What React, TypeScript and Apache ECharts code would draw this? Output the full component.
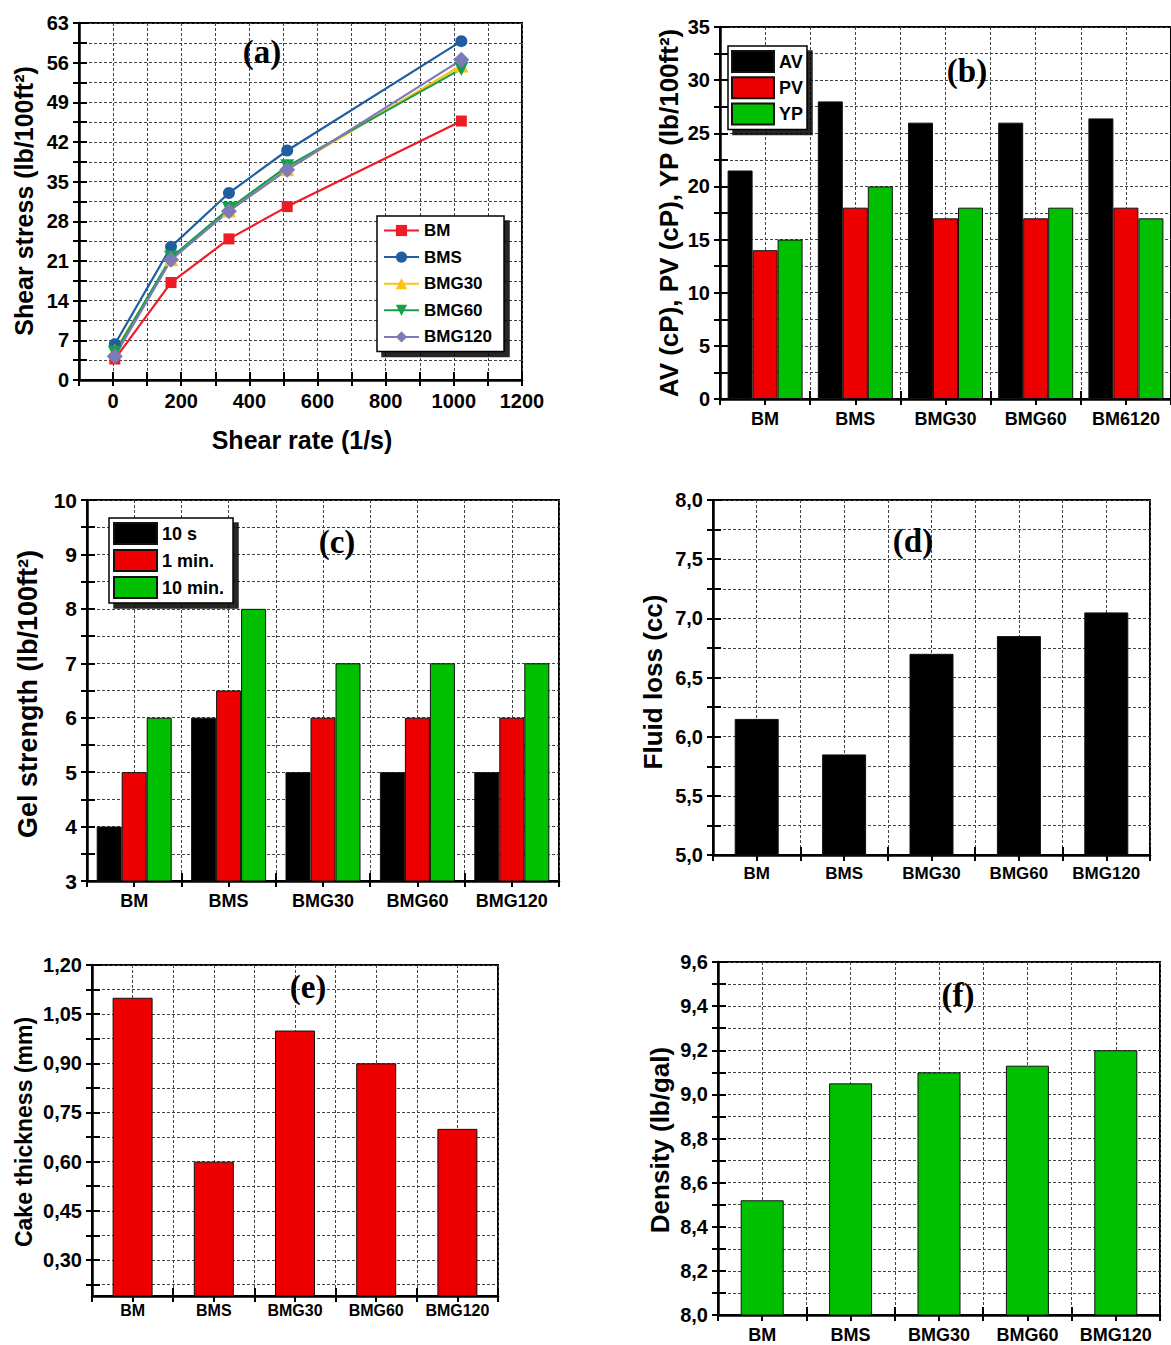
import React, { useEffect, useRef } from 'react';
import * as echarts from 'echarts';

// ---------- DATA ----------
const shearRates = [5.11, 170, 340, 511, 1022];
const stressBM = [3.7, 17.2, 24.9, 30.6, 45.7];
const stressBMS = [6.3, 23.5, 33.0, 40.5, 59.8];
const stressBMG30 = [5.1, 21.3, 29.9, 37.2, 55.5];
const stressBMG60 = [4.8, 21.6, 30.2, 37.7, 54.9];
const stressBMG120 = [4.2, 21.2, 29.8, 37.1, 56.5];

const categoriesB = ['BM', 'BMS', 'BMG30', 'BMG60', 'BM6120'];
const categories = ['BM', 'BMS', 'BMG30', 'BMG60', 'BMG120'];

const avValues = [21.5, 28, 26, 26, 26.4];
const pvValues = [14, 18, 17, 17, 18];
const ypValues = [15, 20, 18, 18, 17];

const gel10s = [4, 6, 5, 5, 5];
const gel1min = [5, 6.5, 6, 6, 6];
const gel10min = [6, 8, 7, 7, 7];

const fluidLoss = [6.15, 5.85, 6.7, 6.85, 7.05];
const cakeThickness = [1.1, 0.6, 1.0, 0.9, 0.7];
const density = [8.52, 9.05, 9.1, 9.13, 9.2];

const cakeTickValues = [0.225, 0.3, 0.375, 0.45, 0.525, 0.6, 0.675, 0.75, 0.825, 0.9, 0.975, 1.05, 1.125, 1.2];
const cakeLabelValues = [0.3, 0.45, 0.6, 0.75, 0.9, 1.05, 1.2];

// ---------- STYLE ----------
const SANS = "'Liberation Sans', Arial, sans-serif";
const SERIF = "'Liberation Serif', 'Times New Roman', serif";
const gridLine = { color: '#444', type: [3, 2], width: 1 };
const axisLineStyle = { color: '#000', width: 2.5 };
const tickStyle = { color: '#000', width: 2 };
const RED = '#ee0000';
const GREEN = '#00c000';
const BLACK = '#000000';

const isMult = (v: number, step: number) => Math.abs(v / step - Math.round(v / step)) < 1e-6;
const comma = (v: number, d: number) => v.toFixed(d).replace('.', ',');

function buildOption() {
  const grids = [
    { left: 79, top: 23, width: 443, height: 357 }, // a
    { left: 720, top: 27, width: 458, height: 372 }, // b
    { left: 87, top: 500, width: 472, height: 381 }, // c
    { left: 713, top: 500, width: 437, height: 355 }, // d
    { left: 92, top: 965, width: 406, height: 331 }, // e
    { left: 718, top: 962, width: 442, height: 353 }, // f
  ].map((g) => ({ ...g, show: true, borderColor: '#000', borderWidth: 2, backgroundColor: 'transparent', containLabel: false }));

  const xAxes: any[] = [];
  const yAxes: any[] = [];
  const series: any[] = [];

  function addY(g: number, cfg: any, labelFmt: (v: number) => string, fontSize: number, extra: any = {}) {
    const idx = yAxes.length;
    yAxes.push({
      type: 'value', gridIndex: g, position: 'left', ...cfg,
      axisLine: { show: true, onZero: false, lineStyle: axisLineStyle },
      axisTick: { show: true, inside: false, length: 6, lineStyle: tickStyle, ...(extra.tick || {}) },
      axisLabel: { show: true, formatter: labelFmt, fontFamily: SANS, fontWeight: 'bold', fontSize, color: '#000', margin: 10, ...(extra.label || {}) },
      splitLine: { show: true, lineStyle: gridLine },
    });
    yAxes.push({
      type: 'value', gridIndex: g, position: 'left', ...cfg,
      axisLine: { show: false, onZero: false },
      axisTick: { show: true, inside: true, length: 8, lineStyle: tickStyle, ...(extra.tick || {}) },
      axisLabel: { show: false },
      splitLine: { show: false },
    });
    return idx;
  }

  function addCatX(g: number, cats: string[], fontSize: number, margin: number) {
    const idx = xAxes.length;
    xAxes.push({
      type: 'category', gridIndex: g, position: 'bottom', data: cats,
      axisLine: { show: true, onZero: false, lineStyle: axisLineStyle },
      axisTick: { show: true, inside: true, length: 8, lineStyle: tickStyle },
      axisLabel: { interval: 0, fontFamily: SANS, fontWeight: 'bold', fontSize, color: '#000', margin },
      splitLine: { show: false },
    });
    xAxes.push({
      type: 'value', gridIndex: g, position: 'bottom', min: 0, max: 10, interval: 1,
      axisLine: { show: false, onZero: false },
      axisTick: { show: true, inside: false, length: 6, lineStyle: tickStyle },
      axisLabel: { show: false },
      splitLine: { show: true, lineStyle: gridLine },
    });
    return idx;
  }

  // ----- (a) -----
  const ax = xAxes.length;
  xAxes.push({
    type: 'value', gridIndex: 0, position: 'bottom', min: -100, max: 1200, interval: 100,
    axisLine: { show: true, onZero: false, lineStyle: axisLineStyle },
    axisTick: { show: true, inside: false, length: 6, lineStyle: tickStyle },
    axisLabel: {
      formatter: (v: number) => (v >= 0 && isMult(v, 200) ? String(v) : ''),
      fontFamily: SANS, fontWeight: 'bold', fontSize: 20, color: '#000', margin: 11,
    },
    splitLine: { show: true, lineStyle: gridLine },
  });
  xAxes.push({
    type: 'value', gridIndex: 0, position: 'bottom', min: -100, max: 1200, interval: 100,
    axisLine: { show: false, onZero: false },
    axisTick: { show: true, inside: true, length: 8, lineStyle: tickStyle },
    axisLabel: { show: false }, splitLine: { show: false },
  });
  const ay = addY(0, { min: 0, max: 63, interval: 3.5 }, (v) => (isMult(v, 7) ? String(v) : ''), 20);

  const lineDefs = [
    { name: 'BM', data: stressBM, color: '#ee1c25', symbol: 'rect', size: 11, rot: 0 },
    { name: 'BMS', data: stressBMS, color: '#1f5ea0', symbol: 'circle', size: 12, rot: 0 },
    { name: 'BMG30', data: stressBMG30, color: '#ffc20e', symbol: 'triangle', size: 14, rot: 0 },
    { name: 'BMG60', data: stressBMG60, color: '#17a04a', symbol: 'triangle', size: 14, rot: 180 },
    { name: 'BMG120', data: stressBMG120, color: '#7d7ab8', symbol: 'diamond', size: 16, rot: 0 },
  ];
  lineDefs.forEach((d) => {
    series.push({
      type: 'line', name: d.name, xAxisIndex: ax, yAxisIndex: ay,
      data: shearRates.map((x, i) => [x, d.data[i]]),
      symbol: d.symbol, symbolSize: d.size, symbolRotate: d.rot, showAllSymbol: true,
      lineStyle: { color: d.color, width: 2.2 },
      itemStyle: { color: d.color },
      z: 3,
    });
  });

  // ----- (b) -----
  const bx = addCatX(1, categoriesB, 18, 11);
  const by = addY(1, { min: 0, max: 35, interval: 2.5 }, (v) => (isMult(v, 5) ? String(v) : ''), 20);
  [
    { name: 'AV', data: avValues, color: BLACK },
    { name: 'PV', data: pvValues, color: RED },
    { name: 'YP', data: ypValues, color: GREEN },
  ].forEach((d) => {
    series.push({
      type: 'bar', name: d.name, xAxisIndex: bx, yAxisIndex: by, data: d.data,
      barWidth: 25, barGap: '0%',
      itemStyle: { color: d.color, borderColor: '#111', borderWidth: 1 },
    });
  });

  // ----- (c) -----
  const cx = addCatX(2, categories, 18, 11);
  const cy = addY(2, { min: 3, max: 10, interval: 0.5 }, (v) => (isMult(v, 1) ? String(v) : ''), 21);
  [
    { name: '10 s', data: gel10s, color: BLACK },
    { name: '1 min.', data: gel1min, color: RED },
    { name: '10 min.', data: gel10min, color: GREEN },
  ].forEach((d) => {
    series.push({
      type: 'bar', name: d.name, xAxisIndex: cx, yAxisIndex: cy, data: d.data,
      barWidth: 25, barGap: '0%',
      itemStyle: { color: d.color, borderColor: '#111', borderWidth: 1 },
    });
  });

  // ----- (d) -----
  const dx = addCatX(3, categories, 17, 10);
  const dy = addY(3, { min: 5, max: 8, interval: 0.25 }, (v) => (isMult(v, 0.5) ? comma(v, 1) : ''), 20);
  series.push({
    type: 'bar', name: 'Fluid loss', xAxisIndex: dx, yAxisIndex: dy, data: fluidLoss,
    barWidth: 44, itemStyle: { color: BLACK, borderColor: '#111', borderWidth: 1 },
  });

  // ----- (e) -----
  const ex = addCatX(4, categories, 16, 6);
  const ey = addY(
    4,
    { min: 0.19, max: 1.2 },
    (v) => comma(v, 2),
    20,
    { tick: { customValues: cakeTickValues }, label: { customValues: cakeLabelValues } }
  );
  series.push({
    type: 'bar', name: 'Cake thickness', xAxisIndex: ex, yAxisIndex: ey, data: cakeThickness,
    barWidth: 40, itemStyle: { color: RED, borderColor: '#111', borderWidth: 1 },
  });

  // ----- (f) -----
  const fx = addCatX(5, categories, 18, 11);
  const fy = addY(5, { min: 8, max: 9.6, interval: 0.1 }, (v) => (isMult(v, 0.2) ? comma(v, 1) : ''), 20);
  series.push({
    type: 'bar', name: 'Density', xAxisIndex: fx, yAxisIndex: fy, data: density,
    barWidth: 43, itemStyle: { color: GREEN, borderColor: '#111', borderWidth: 1 },
  });

  const legendBase = {
    orient: 'vertical', selectedMode: false, backgroundColor: '#fff',
    borderColor: '#000', borderWidth: 1.5,
    shadowColor: 'rgba(0,0,0,0.85)', shadowBlur: 1, shadowOffsetX: 5, shadowOffsetY: 5,
  };
  const legends = [
    {
      ...legendBase, data: lineDefs.map((d) => d.name), left: 377, top: 216,
      itemWidth: 35, itemHeight: 14, itemGap: 9.6, padding: [6, 12, 6, 6],
      textStyle: { fontFamily: SANS, fontWeight: 'bold', fontSize: 17, color: '#000', lineHeight: 14 },
    },
    {
      ...legendBase, data: ['AV', 'PV', 'YP'], left: 728, top: 46, icon: 'rect',
      itemWidth: 42, itemHeight: 21, itemGap: 3.3, padding: [4, 4, 4, 3],
      textStyle: { fontFamily: SANS, fontWeight: 'bold', fontSize: 18, color: '#000', lineHeight: 21 },
    },
    {
      ...legendBase, data: ['10 s', '1 min.', '10 min.'], left: 109, top: 518, icon: 'rect',
      itemWidth: 43, itemHeight: 21, itemGap: 4, padding: [4, 9, 4, 4],
      textStyle: { fontFamily: SANS, fontWeight: 'bold', fontSize: 18, color: '#000', lineHeight: 21 },
    },
  ];

  const vTitle = (text: string, x: number, y: number, size: number) => ({
    type: 'text', x, y, rotation: Math.PI / 2, z: 10,
    style: { text, fontFamily: SANS, fontWeight: 'bold', fontSize: size, fill: '#000', align: 'center', verticalAlign: 'middle' },
  });
  const panelLabel = (text: string, x: number, y: number) => ({
    type: 'text', x, y, z: 10,
    style: { text, fontFamily: SERIF, fontWeight: 'bold', fontSize: 33, fill: '#000', align: 'center', verticalAlign: 'middle' },
  });

  const graphic = [
    vTitle('Shear stress (lb/100ft²)', 24, 201, 25),
    {
      type: 'text', x: 302, y: 440, z: 10,
      style: { text: 'Shear rate (1/s)', fontFamily: SANS, fontWeight: 'bold', fontSize: 25, fill: '#000', align: 'center', verticalAlign: 'middle' },
    },
    vTitle('AV (cP), PV (cP), YP (lb/100ft²)', 669, 213, 26),
    vTitle('Gel strength (lb/100ft²)', 28, 694, 27),
    vTitle('Fluid loss (cc)', 653, 682, 26),
    vTitle('Cake thickness (mm)', 24, 1132, 23),
    vTitle('Density (lb/gal)', 660, 1140, 26),
    panelLabel('(a)', 262, 52),
    panelLabel('(b)', 967, 71),
    panelLabel('(c)', 337, 542),
    panelLabel('(d)', 913, 541),
    panelLabel('(e)', 308, 987),
    panelLabel('(f)', 958, 995),
  ];

  return {
    animation: false,
    backgroundColor: '#fff',
    grid: grids,
    xAxis: xAxes,
    yAxis: yAxes,
    legend: legends,
    series,
    graphic,
  };
}

export default function App() {
  const ref = useRef<HTMLDivElement>(null);
  useEffect(() => {
    if (!ref.current) return;
    const chart = echarts.init(ref.current, undefined, { renderer: 'svg' });
    chart.setOption(buildOption() as any);
    return () => chart.dispose();
  }, []);
  return (
    <div
      ref={ref}
      style={{ position: 'absolute', left: 0, top: 0, width: 1171, height: 1345, background: '#fff' }}
    />
  );
}
